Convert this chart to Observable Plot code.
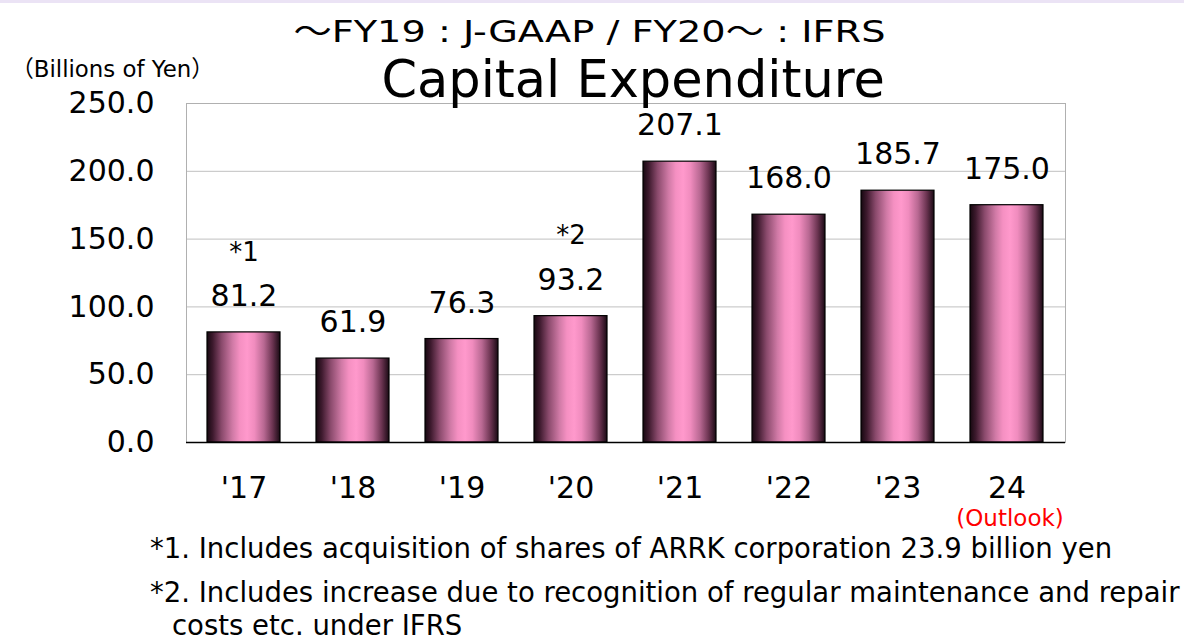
<!DOCTYPE html>
<html>
<head>
<meta charset="utf-8">
<script src="https://cdn.jsdelivr.net/npm/d3@7"></script>
<script src="https://cdn.jsdelivr.net/npm/@observablehq/plot@0.6"></script>
<style>
  html, body { margin: 0; padding: 0; background: #fff; }
  body { width: 1184px; height: 639px; position: relative; overflow: hidden; font-family: "DejaVu Sans", sans-serif; color: #000; }
  #topband { position: absolute; left: 0; top: 0; width: 1184px; height: 3px; background: #ebe3f5; }
  .t { position: absolute; white-space: nowrap; line-height: 1; }
  .cjk { font-family: "Noto Sans CJK JP", sans-serif; }
  #chart { position: absolute; left: 0; top: 0; }
</style>
</head>
<body>
<div id="topband"></div>
<div id="chart"></div>
<div class="t" id="title1" style="right:299px; top:13px; font-size:31px; transform-origin: right center;"><span class="cjk">～</span>FY19 : J-GAAP / FY20<span class="cjk">～</span> : IFRS</div>
<div class="t" id="title2" style="right:299px; top:54px; font-size:51px;">Capital Expenditure</div>
<div class="t" id="unit" style="left:11px; top:56px; font-size:23px; transform-origin: left center;"><span class="cjk">（</span>Billions of Yen<span class="cjk">）</span></div>
<div class="t" id="note1" style="left:150px; top:535px; font-size:27.5px;">*1. Includes acquisition of shares of ARRK corporation 23.9 billion yen</div>
<div class="t" id="note2" style="left:150px; top:579px; font-size:27.5px;">*2. Includes increase due to recognition of regular maintenance and repair</div>
<div class="t" id="note3" style="left:172px; top:612px; font-size:27.5px;">costs etc. under IFRS</div>
<script>
const years = ["'17", "'18", "'19", "'20", "'21", "'22", "'23", "24"];
const values = [81.2, 61.9, 76.3, 93.2, 207.1, 168.0, 185.7, 175.0];
const yTicks = [0, 50, 100, 150, 200, 250];
const noteYears = ["'17", "'20"];
const noteLabels = ["*1", "*2"];
const noteValues = [81.2, 93.2];
const outlookYear = ["24"];
const outlookLabel = ["(Outlook)"];

const data = years.map((y, i) => ({year: y, value: values[i]}));
const notes = noteYears.map((y, i) => ({year: y, label: noteLabels[i], value: noteValues[i]}));

function defs() {
  const ns = "http://www.w3.org/2000/svg";
  const d = document.createElementNS(ns, "defs");
  const g = document.createElementNS(ns, "linearGradient");
  g.setAttribute("id", "barGrad");
  g.setAttribute("x1", "0"); g.setAttribute("x2", "1");
  g.setAttribute("y1", "0"); g.setAttribute("y2", "0");
  const stops = [
    [0, "#160810"], [0.08, "#3e1a2e"], [0.2, "#8a4a6c"], [0.35, "#d07aa6"],
    [0.45, "#f590c2"], [0.55, "#ff99cc"], [0.65, "#f08cbe"], [0.78, "#b86892"],
    [0.9, "#6a3350"], [1, "#1a0a14"]
  ];
  for (const [o, c] of stops) {
    const s = document.createElementNS(ns, "stop");
    s.setAttribute("offset", o);
    s.setAttribute("stop-color", c);
    g.appendChild(s);
  }
  d.appendChild(g);
  return d;
}

const chart = Plot.plot({
  width: 1184,
  height: 639,
  marginLeft: 186,
  marginRight: 119,
  marginTop: 103,
  marginBottom: 197,
  style: {fontFamily: "DejaVu Sans, sans-serif", fontSize: "30px", color: "#000", background: "transparent"},
  x: {domain: years, paddingInner: 0.327, paddingOuter: 0.1635, align: 0.5, label: null},
  y: {domain: [0, 250], label: null},
  marks: [
    defs,
    Plot.gridY(yTicks, {stroke: "#c0c0c0", strokeOpacity: 1, strokeWidth: 1}),
    Plot.frame({stroke: "#b0b0b0", strokeWidth: 1}),
    Plot.barY(data, {x: "year", y: "value", fill: "url(#barGrad)", stroke: "#000", strokeWidth: 1.2}),
    Plot.ruleX([0], {stroke: "#808080", strokeWidth: 1.5, frameAnchor: "left"}),
    Plot.axisY({ticks: yTicks, tickSize: 0, tickPadding: 32, tickFormat: d => d.toFixed(1), fontSize: 30, label: null}),
    Plot.axisX({tickSize: 0, tickPadding: 34, fontSize: 30, label: null}),
    Plot.ruleY([0], {stroke: "#000", strokeWidth: 1.5}),
    Plot.text(data, {x: "year", y: "value", text: d => d.value.toFixed(1), dy: -36, fontSize: 30, fill: "#000"}),
    Plot.text(notes, {x: "year", y: "value", text: "label", dy: -80, fontSize: 26, fill: "#000"}),
    Plot.text(outlookYear, {x: d => d, text: outlookLabel, frameAnchor: "bottom", lineAnchor: "middle", dy: 76, dx: 3, fontSize: 23, fill: "#ff0000"})
  ]
});
document.getElementById("chart").appendChild(chart);

function fitWidth(id, target) {
  const el = document.getElementById(id);
  const w = el.getBoundingClientRect().width;
  if (w > 0) el.style.transform = `scaleX(${target / w})`;
}
fitWidth("title1", 592);
fitWidth("unit", 203);
</script>
</body>
</html>
